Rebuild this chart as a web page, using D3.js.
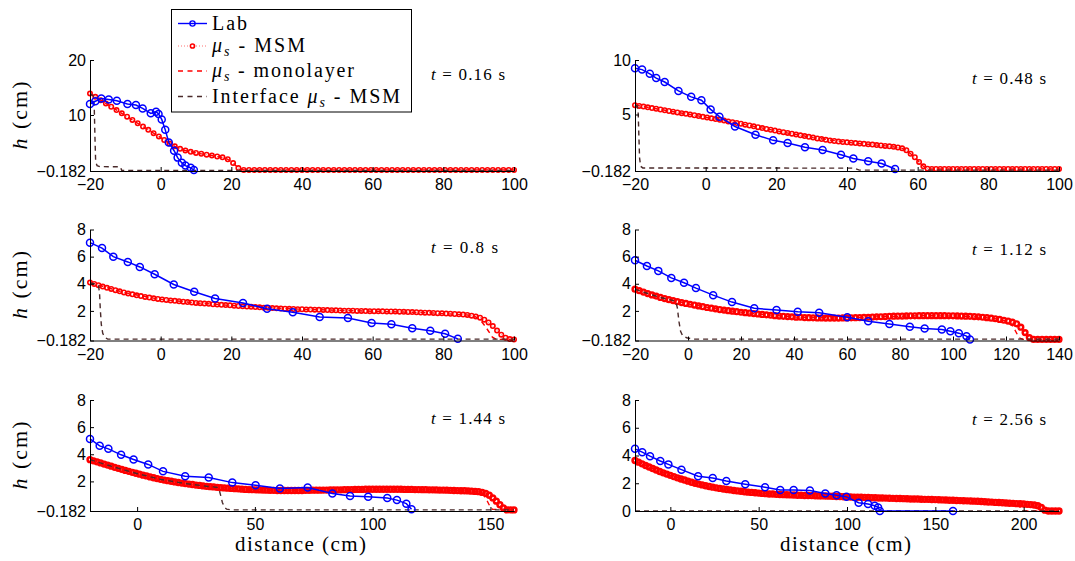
<!DOCTYPE html>
<html>
<head>
<meta charset="utf-8">
<script src="https://cdn.jsdelivr.net/npm/d3@7"></script>
<style>
  body { margin: 0; background: #fff; }
  svg { display: block; }
  .axis text { font-family: "Liberation Sans", Arial, sans-serif; font-size: 16px; fill: #000; }
  .axis path, .axis line { stroke: #000; stroke-width: 1; }
  .serif { font-family: "Liberation Serif", "Times New Roman", serif; fill: #000; }
</style>
</head>
<body>
<svg id="chart" width="1075" height="561"></svg>
<script>
// ---------------- data: snapshot times and axis settings ----------------
const snapTimes = ["0.16", "0.48", "0.8", "1.12", "1.44", "2.56"];
const xDomains = [[-20, 100], [-20, 100], [-20, 100], [-20, 140], [-20, 160], [-20, 220]];
const yDomains = [[-0.182, 20], [-0.182, 10], [-0.182, 8], [-0.182, 8], [-0.182, 8], [0, 8]];
const xTickSets = [
  [-20, 0, 20, 40, 60, 80, 100],
  [-20, 0, 20, 40, 60, 80, 100],
  [-20, 0, 20, 40, 60, 80, 100],
  [-20, 0, 20, 40, 60, 80, 100, 120, 140],
  [0, 50, 100, 150],
  [0, 50, 100, 150, 200]
];
const yTickSets = [
  [-0.182, 10, 20],
  [-0.182, 5, 10],
  [-0.182, 2, 4, 6, 8],
  [-0.182, 2, 4, 6, 8],
  [-0.182, 2, 4, 6, 8],
  [0, 2, 4, 6, 8]
];

// ---------------- data: laboratory profiles ----------------
const lab016X = [-20, -18.5, -16.8, -14.7, -12.4, -9.4, -7, -5.1, -2.8, -1.3, -0.6, 0.3, 1.3, 2.3, 3.8, 4.8, 6.0, 7.0, 8.5, 9.4];
const lab016H = [12, 12.5, 13.0, 12.8, 12.6, 12.0, 11.8, 11.2, 10.3, 10.6, 10.2, 9.2, 7.3, 5.0, 3.5, 2.25, 1.3, 0.8, 0.4, 0.0];
const lab048X = [-20, -18, -15.8, -14, -11.6, -7.7, -4.1, -1.2, 1.4, 3.9, 8.3, 14.1, 19.1, 23.2, 28.1, 33.1, 38.3, 41.8, 46, 49.8, 53.6];
const lab048H = [9.25, 9.12, 8.73, 8.34, 7.98, 7.16, 6.62, 6.31, 5.47, 4.8, 3.9, 3.14, 2.63, 2.39, 1.99, 1.75, 1.3, 0.97, 0.72, 0.51, 0.0];
const lab080X = [-20, -16.6, -13.4, -9.3, -5.9, -1.7, 3.7, 9.5, 15.4, 23.3, 30.1, 37.4, 45, 53, 59.7, 65.3, 71.2, 76.3, 80.5, 84.1];
const lab080H = [7.03, 6.63, 6.0, 5.61, 5.24, 4.7, 3.95, 3.41, 2.92, 2.58, 2.16, 1.9, 1.55, 1.48, 1.11, 1.02, 0.72, 0.53, 0.31, -0.06];
const lab112X = [-20, -15.5, -11.2, -6.3, -1.5, 3, 9.5, 16.6, 25, 33.4, 41.4, 49.5, 60.1, 68, 76, 83.7, 89.3, 95.8, 99, 102.2, 105.1, 106.4];
const lab112H = [5.73, 5.31, 4.95, 4.43, 4.07, 3.68, 3.16, 2.65, 2.19, 2.07, 1.94, 1.87, 1.53, 1.24, 1.04, 0.84, 0.7, 0.63, 0.5, 0.36, 0.14, -0.1];
const lab144X = [-20, -15.9, -12.2, -6.8, -1.5, 4.7, 11, 20.4, 30.4, 40.4, 50.3, 60.6, 72.4, 82.9, 90.4, 98.1, 106.2, 110.3, 114.3, 116.5];
const lab144H = [5.13, 4.62, 4.4, 3.96, 3.62, 3.25, 2.74, 2.38, 2.28, 1.91, 1.72, 1.48, 1.55, 1.11, 0.92, 0.87, 0.77, 0.62, 0.36, -0.05];
const lab256X = [-20, -15.9, -11.5, -5.7, -1.1, 6.3, 15.7, 24, 31.7, 42.4, 53.6, 62.2, 69.8, 79, 87.7, 94.1, 99.7, 106.6, 111.9, 115.7, 117.6, 118.6, 160];
const lab256H = [4.48, 4.24, 3.95, 3.6, 3.36, 2.98, 2.5, 2.38, 2.17, 1.93, 1.71, 1.52, 1.52, 1.48, 1.26, 1.14, 1.02, 0.6, 0.5, 0.38, 0.26, 0, 0];

// ---------------- data: multilayer (MSM) surface, one value per node ----------------
const msm016X = [-20, -18.5, -17, -15.5, -14, -12.5, -11, -9.5, -8, -6.5,
  -5, -3.5, -2, -0.5, 1, 2.5, 4, 5.5, 7, 8.5,
  10, 11.5, 13, 14.5, 16, 17.5, 19, 20.5, 22, 23.5,
  25, 26.5, 28, 29.5, 31, 32.5, 34, 35.5, 37, 38.5,
  40, 41.5, 43, 44.5, 46, 47.5, 49, 50.5, 52, 53.5,
  55, 56.5, 58, 59.5, 61, 62.5, 64, 65.5, 67, 68.5,
  70, 71.5, 73, 74.5, 76, 77.5, 79, 80.5, 82, 83.5,
  85, 86.5, 88, 89.5, 91, 92.5, 94, 95.5, 97, 98.5,
  100];
const msm016H = [13.9, 13.3, 12.7, 12.1, 11.5, 10.9, 10.3, 9.7, 9.1, 8.5,
  7.9, 7.3, 6.7, 6.1, 5.45, 4.8, 4.3, 3.85, 3.55, 3.3,
  3.1, 2.95, 2.78, 2.62, 2.45, 2.3, 1.95, 1.25, 0.35, 0,
  0, 0, 0, 0, 0, 0, 0, 0, 0, 0,
  0, 0, 0, 0, 0, 0, 0, 0, 0, 0,
  0, 0, 0, 0, 0, 0, 0, 0, 0, 0,
  0, 0, 0, 0, 0, 0, 0, 0, 0, 0,
  0, 0, 0, 0, 0, 0, 0, 0, 0, 0,
  0];
const msm048X = [-20, -18.8, -17.6, -16.4, -15.2, -14, -12.8, -11.6, -10.4, -9.2,
  -8, -6.8, -5.6, -4.4, -3.2, -2, -0.8, 0.4, 1.6, 2.8,
  4, 5.2, 6.4, 7.6, 8.8, 10, 11.2, 12.4, 13.6, 14.8,
  16, 17.2, 18.4, 19.6, 20.8, 22, 23.2, 24.4, 25.6, 26.8,
  28, 29.2, 30.4, 31.6, 32.8, 34, 35.2, 36.4, 37.6, 38.8,
  40, 41.2, 42.4, 43.6, 44.8, 46, 47.2, 48.4, 49.6, 50.8,
  52, 53.2, 54.4, 55.6, 56.8, 58, 59.2, 60.4, 61.6, 62.8,
  64, 65.2, 66.4, 67.6, 68.8, 70, 71.2, 72.4, 73.6, 74.8,
  76, 77.2, 78.4, 79.6, 80.8, 82, 83.2, 84.4, 85.6, 86.8,
  88, 89.2, 90.4, 91.6, 92.8, 94, 95.2, 96.4, 97.6, 98.8,
  100];
const msm048H = [5.86, 5.79, 5.73, 5.66, 5.59, 5.53, 5.46, 5.39, 5.32, 5.26,
  5.19, 5.12, 5.06, 4.99, 4.93, 4.86, 4.79, 4.73, 4.65, 4.58,
  4.51, 4.44, 4.37, 4.29, 4.22, 4.15, 4.07, 3.99, 3.92, 3.84,
  3.76, 3.68, 3.6, 3.53, 3.45, 3.38, 3.31, 3.24, 3.16, 3.09,
  3.02, 2.95, 2.88, 2.81, 2.75, 2.68, 2.62, 2.57, 2.52, 2.48,
  2.45, 2.41, 2.38, 2.34, 2.31, 2.27, 2.24, 2.2, 2.16, 2.12,
  2.08, 2.04, 1.98, 1.9, 1.72, 1.4, 1.08, 0.65, 0.25, 0.03,
  0, 0, 0, 0, 0, 0, 0, 0, 0, 0,
  0, 0, 0, 0, 0, 0, 0, 0, 0, 0,
  0, 0, 0, 0, 0, 0, 0, 0, 0, 0,
  0];
const msm080X = msm048X;
const msm080H = [4.09, 3.99, 3.89, 3.79, 3.7, 3.62, 3.53, 3.44, 3.36, 3.29,
  3.22, 3.15, 3.09, 3.03, 2.98, 2.93, 2.88, 2.84, 2.81, 2.77,
  2.74, 2.71, 2.68, 2.65, 2.62, 2.59, 2.57, 2.54, 2.52, 2.49,
  2.47, 2.45, 2.43, 2.41, 2.38, 2.36, 2.34, 2.32, 2.3, 2.28,
  2.26, 2.24, 2.23, 2.21, 2.19, 2.18, 2.16, 2.15, 2.14, 2.13,
  2.12, 2.11, 2.1, 2.09, 2.08, 2.07, 2.06, 2.05, 2.04, 2.03,
  2.02, 2.02, 2.01, 2.0, 2.0, 1.99, 1.98, 1.98, 1.97, 1.97,
  1.96, 1.96, 1.95, 1.94, 1.93, 1.92, 1.91, 1.9, 1.88, 1.87,
  1.86, 1.85, 1.83, 1.82, 1.8, 1.79, 1.77, 1.75, 1.73, 1.7,
  1.65, 1.58, 1.5, 1.35, 1.15, 0.88, 0.55, 0.25, 0.02, -0.08,
  -0.1];
const msm112X = [-20, -18.4, -16.8, -15.2, -13.6, -12, -10.4, -8.8, -7.2, -5.6,
  -4, -2.4, -0.8, 0.8, 2.4, 4, 5.6, 7.2, 8.8, 10.4,
  12, 13.6, 15.2, 16.8, 18.4, 20, 21.6, 23.2, 24.8, 26.4,
  28, 29.6, 31.2, 32.8, 34.4, 36, 37.6, 39.2, 40.8, 42.4,
  44, 45.6, 47.2, 48.8, 50.4, 52, 53.6, 55.2, 56.8, 58.4,
  60, 61.6, 63.2, 64.8, 66.4, 68, 69.6, 71.2, 72.8, 74.4,
  76, 77.6, 79.2, 80.8, 82.4, 84, 85.6, 87.2, 88.8, 90.4,
  92, 93.6, 95.2, 96.8, 98.4, 100, 101.6, 103.2, 104.8, 106.4,
  108, 109.6, 111.2, 112.8, 114.4, 116, 117.6, 119.2, 120.8, 122.4,
  124, 125.6, 127.2, 128.8, 130.4, 132, 133.6, 135.2, 136.8, 138.4,
  140];
const msm112H = [3.6, 3.49, 3.39, 3.28, 3.18, 3.09, 2.99, 2.91, 2.83, 2.76,
  2.68, 2.61, 2.55, 2.49, 2.43, 2.37, 2.31, 2.25, 2.2, 2.15,
  2.1, 2.06, 2.02, 1.98, 1.94, 1.9, 1.87, 1.84, 1.8, 1.77,
  1.74, 1.71, 1.68, 1.65, 1.62, 1.6, 1.58, 1.56, 1.54, 1.53,
  1.51, 1.5, 1.49, 1.48, 1.48, 1.47, 1.47, 1.47, 1.47, 1.48,
  1.48, 1.49, 1.5, 1.51, 1.52, 1.53, 1.55, 1.56, 1.57, 1.58,
  1.6, 1.61, 1.62, 1.62, 1.63, 1.64, 1.64, 1.65, 1.65, 1.65,
  1.65, 1.65, 1.65, 1.65, 1.64, 1.64, 1.63, 1.62, 1.61, 1.6,
  1.58, 1.56, 1.53, 1.5, 1.46, 1.42, 1.37, 1.31, 1.25, 1.17,
  1.05, 0.8, 0.4, 0.03, -0.1, -0.1, -0.1, -0.1, -0.1, -0.1,
  -0.1];
const msm144X = [-20, -18.5, -17, -15.5, -14, -12.5, -11, -9.5, -8, -6.5,
  -5, -3.5, -2, -0.5, 1, 2.5, 4, 5.5, 7, 8.5,
  10, 11.5, 13, 14.5, 16, 17.5, 19, 20.5, 22, 23.5,
  25, 26.5, 28, 29.5, 31, 32.5, 34, 35.5, 37, 38.5,
  40, 41.5, 43, 44.5, 46, 47.5, 49, 50.5, 52, 53.5,
  55, 56.5, 58, 59.5, 61, 62.5, 64, 65.5, 67, 68.5,
  70, 71.5, 73, 74.5, 76, 77.5, 79, 80.5, 82, 83.5,
  85, 86.5, 88, 89.5, 91, 92.5, 94, 95.5, 97, 98.5,
  100, 101.5, 103, 104.5, 106, 107.5, 109, 110.5, 112, 113.5,
  115, 116.5, 118, 119.5, 121, 122.5, 124, 125.5, 127, 128.5,
  130, 131.5, 133, 134.5, 136, 137.5, 139, 140.5, 142, 143.5,
  145, 146.5, 148, 149.5, 151, 152.5, 154, 155.5, 157, 158.5,
  160];
const msm144H = [3.6, 3.52, 3.44, 3.36, 3.28, 3.2, 3.12, 3.04, 2.96, 2.89,
  2.81, 2.74, 2.67, 2.6, 2.53, 2.46, 2.4, 2.33, 2.27, 2.21,
  2.15, 2.1, 2.05, 2.01, 1.96, 1.92, 1.88, 1.84, 1.8, 1.77,
  1.73, 1.7, 1.67, 1.64, 1.61, 1.59, 1.56, 1.54, 1.52, 1.5,
  1.48, 1.46, 1.45, 1.43, 1.41, 1.4, 1.39, 1.38, 1.37, 1.36,
  1.35, 1.34, 1.34, 1.33, 1.33, 1.33, 1.33, 1.33, 1.33, 1.33,
  1.33, 1.34, 1.34, 1.35, 1.35, 1.35, 1.36, 1.36, 1.37, 1.37,
  1.38, 1.38, 1.39, 1.4, 1.4, 1.41, 1.41, 1.41, 1.42, 1.42,
  1.42, 1.42, 1.42, 1.42, 1.42, 1.42, 1.42, 1.42, 1.42, 1.41,
  1.41, 1.41, 1.4, 1.4, 1.39, 1.39, 1.38, 1.38, 1.37, 1.36,
  1.36, 1.35, 1.34, 1.33, 1.32, 1.31, 1.31, 1.3, 1.28, 1.26,
  1.24, 1.19, 1.12, 0.98, 0.78, 0.54, 0.28, 0.05, -0.1, -0.1,
  -0.1];
const msm256X = [-20, -18, -16, -14, -12, -10, -8, -6, -4, -2,
  0, 2, 4, 6, 8, 10, 12, 14, 16, 18,
  20, 22, 24, 26, 28, 30, 32, 34, 36, 38,
  40, 42, 44, 46, 48, 50, 52, 54, 56, 58,
  60, 62, 64, 66, 68, 70, 72, 74, 76, 78,
  80, 82, 84, 86, 88, 90, 92, 94, 96, 98,
  100, 102, 104, 106, 108, 110, 112, 114, 116, 118,
  120, 122, 124, 126, 128, 130, 132, 134, 136, 138,
  140, 142, 144, 146, 148, 150, 152, 154, 156, 158,
  160, 162, 164, 166, 168, 170, 172, 174, 176, 178,
  180, 182, 184, 186, 188, 190, 192, 194, 196, 198,
  200, 202, 204, 206, 208, 210, 212, 214, 216, 218,
  220];
const msm256H = [3.64, 3.52, 3.4, 3.28, 3.17, 3.06, 2.95, 2.85, 2.75, 2.66,
  2.57, 2.48, 2.39, 2.31, 2.23, 2.15, 2.07, 2.0, 1.94, 1.88,
  1.82, 1.77, 1.72, 1.67, 1.63, 1.59, 1.55, 1.52, 1.48, 1.45,
  1.42, 1.39, 1.36, 1.34, 1.31, 1.29, 1.27, 1.25, 1.23, 1.22,
  1.2, 1.19, 1.18, 1.17, 1.16, 1.15, 1.14, 1.13, 1.12, 1.12,
  1.11, 1.1, 1.09, 1.09, 1.08, 1.07, 1.06, 1.05, 1.04, 1.03,
  1.02, 1.01, 1.0, 0.99, 0.99, 0.98, 0.97, 0.96, 0.95, 0.94,
  0.94, 0.93, 0.92, 0.91, 0.9, 0.9, 0.89, 0.88, 0.87, 0.87,
  0.86, 0.85, 0.84, 0.84, 0.83, 0.82, 0.81, 0.8, 0.79, 0.78,
  0.77, 0.76, 0.75, 0.74, 0.73, 0.72, 0.71, 0.7, 0.68, 0.67,
  0.65, 0.64, 0.62, 0.61, 0.59, 0.58, 0.56, 0.55, 0.53, 0.52,
  0.5, 0.48, 0.46, 0.43, 0.38, 0.25, 0.06, 0, 0, 0,
  0];

// ---------------- data: monolayer surface ----------------
const mono016X = [-20, -0.5, 2.5, 4, 5.5, 7, 10, 13, 16, 17.5, 19, 20.5, 22, 23.5, 100];
const mono016H = [13.9, 6.1, 4.8, 4.3, 3.85, 3.55, 3.1, 2.78, 2.45, 2.3, 1.95, 1.25, 0.35, 0, 0];
const mono048X = [-20, 0.4, 10, 20.8, 30.4, 40, 50.8, 54.4, 55.6, 56.8, 58, 59.2, 60.4, 61.6, 62.8, 64, 100];
const mono048H = [5.86, 4.73, 4.15, 3.45, 2.88, 2.45, 2.12, 1.98, 1.9, 1.72, 1.4, 1.08, 0.65, 0.25, 0.03, 0, 0];
const mono080X = [-20, -10.4, -0.8, 10, 22, 40, 58, 76, 86.8, 88, 89.2, 90.4, 91.7, 92.8, 93.9, 95, 100];
const mono080H = [4.09, 3.36, 2.88, 2.59, 2.36, 2.12, 1.99, 1.86, 1.7, 1.65, 1.55, 1.35, 0.92, 0.5, 0.06, -0.1, -0.1];
const mono112X = [-20, -10.4, 0.8, 12, 24.8, 40.8, 56.8, 72.8, 88.8, 104.8, 114.4, 117.6, 119.5, 121, 122.4, 123.3, 124.3, 125.2, 126.5, 140];
const mono112H = [3.6, 2.99, 2.49, 2.1, 1.8, 1.54, 1.47, 1.57, 1.65, 1.61, 1.46, 1.37, 1.28, 1.12, 0.9, 0.62, 0.25, 0.0, -0.1, -0.1];
const mono144X = [-20, -11, 1, 13, 25, 40, 55, 70, 85, 100, 115, 130, 140.5, 145, 146.5, 147.7, 148.8, 149.8, 150.8, 160];
const mono144H = [3.6, 3.12, 2.53, 2.05, 1.73, 1.48, 1.35, 1.33, 1.38, 1.42, 1.41, 1.36, 1.3, 1.24, 1.12, 0.85, 0.5, 0.15, -0.05, -0.1];
const mono256X = [-20, -10, 0, 10, 20, 30, 40, 60, 80, 100, 120, 140, 160, 180, 190, 194, 196, 198, 199.5, 201, 220];
const mono256H = [3.64, 3.06, 2.57, 2.15, 1.82, 1.59, 1.42, 1.2, 1.11, 1.02, 0.94, 0.86, 0.77, 0.65, 0.58, 0.55, 0.45, 0.28, 0.1, 0, 0];

// ---------------- data: interface between layers (MSM) ----------------
const iface016X = [-20, -19.4, -19.0, -18.8, -18.6, -18.4, -18.0, -17.2, -11.4, -11.0, 100];
const iface016H = [13.9, 13.65, 13.4, 11.5, 6, 1.5, 0.8, 0.62, 0.58, -0.1, -0.1];
const iface048X = [-20, -19.4, -19.1, -18.9, -18.7, -18.4, -17.8, 42, 43.5, 100];
const iface048H = [5.86, 5.8, 5.2, 3, 1, 0.25, 0.1, 0.08, -0.1, -0.1];
const iface080X = [-20, -18.8, -17.6, -17.3, -17.1, -16.8, -16.4, -15.8, -15, 100];
const iface080H = [4.09, 3.99, 3.89, 3.3, 2.2, 1.0, 0.35, 0.05, -0.08, -0.08];
const iface112X = [-20, -15.2, -10.4, -5.6, -4.6, -4.0, -3.4, -2.8, -2.0, -0.5, 2, 140];
const iface112H = [3.6, 3.28, 2.99, 2.76, 2.7, 2.2, 1.2, 0.5, 0.15, 0.02, -0.08, -0.08];
const iface144X = [-20, -11, -0.5, 10, 20.5, 29.5, 34, 34.8, 35.5, 36.2, 37, 38, 40, 160];
const iface144H = [3.6, 3.12, 2.6, 2.15, 1.84, 1.64, 1.56, 1.4, 0.95, 0.45, 0.12, -0.05, -0.1, -0.1];
const iface256X = [-20, 220];
const iface256H = [0, 0];

// ---------------- assemble series per panel ----------------
const zip = (xs, hs) => xs.slice(0, Math.min(xs.length, hs.length)).map((v, i) => [v, hs[i]]);
const labSeries   = [zip(lab016X, lab016H), zip(lab048X, lab048H), zip(lab080X, lab080H), zip(lab112X, lab112H), zip(lab144X, lab144H), zip(lab256X, lab256H)];
const msmSeries   = [zip(msm016X, msm016H), zip(msm048X, msm048H), zip(msm080X, msm080H), zip(msm112X, msm112H), zip(msm144X, msm144H), zip(msm256X, msm256H)];
const monoSeries  = [zip(mono016X, mono016H), zip(mono048X, mono048H), zip(mono080X, mono080H), zip(mono112X, mono112H), zip(mono144X, mono144H), zip(mono256X, mono256H)];
const ifaceSeries = [zip(iface016X, iface016H), zip(iface048X, iface048H), zip(iface080X, iface080H), zip(iface112X, iface112H), zip(iface144X, iface144H), zip(iface256X, iface256H)];

// ---------------- layout & style ----------------
const colLeft = [90, 635];
const plotW = 424;
const rowTop = [60, 229.5, 400];
const plotH = 111;
const timeLabelX = [431, 972];
const timeLabelBaseline = [80, 84, 253, 255, 424, 425];
// node markers merge into a band where the nodes are packed tightly
const msmMarkerR = [2.2, 2.2, 2.2, 2.4, 2.4, 2.4];
const msmMarkerW = [1.6, 1.6, 1.6, 2.4, 2.5, 2.6];

const BLUE = "#0000ff";
const RED = "#ff0000";
const BROWN = "#4a2a2a";

const svg = d3.select("#chart");
svg.append("rect").attr("width", 1075).attr("height", 561).attr("fill", "#fff");

const tickFmt = v => (v < 0 ? "\u2212" + String(-v) : String(v));

snapTimes.forEach((t, i) => {
  const col = i % 2, row = Math.floor(i / 2);
  const x0 = colLeft[col], y0 = rowTop[row];
  const x = d3.scaleLinear().domain(xDomains[i]).range([x0, x0 + plotW]);
  const y = d3.scaleLinear().domain(yDomains[i]).range([y0 + plotH, y0]);
  const line = d3.line().x(d => x(d[0])).y(d => y(d[1]));
  const g = svg.append("g");

  // multilayer surface: dotted line with open circle markers
  g.append("path").datum(msmSeries[i]).attr("d", line)
    .attr("fill", "none").attr("stroke", "#ff5a5a").attr("stroke-width", 1)
    .attr("stroke-dasharray", "1,2");
  g.append("g").selectAll("circle").data(msmSeries[i]).join("circle")
    .attr("cx", d => x(d[0])).attr("cy", d => y(d[1])).attr("r", msmMarkerR[i])
    .attr("fill", "none").attr("stroke", RED).attr("stroke-width", msmMarkerW[i]);

  // monolayer surface
  g.append("path").datum(monoSeries[i]).attr("d", line)
    .attr("fill", "none").attr("stroke", RED).attr("stroke-width", 1.4)
    .attr("stroke-dasharray", "5,4");

  // interface between the layers
  g.append("path").datum(ifaceSeries[i]).attr("d", line)
    .attr("fill", "none").attr("stroke", BROWN).attr("stroke-width", 1.4)
    .attr("stroke-dasharray", "5,4");

  // laboratory measurements
  g.append("path").datum(labSeries[i]).attr("d", line)
    .attr("fill", "none").attr("stroke", BLUE).attr("stroke-width", 1.5);
  g.append("g").selectAll("circle").data(labSeries[i]).join("circle")
    .attr("cx", d => x(d[0])).attr("cy", d => y(d[1])).attr("r", 3.5)
    .attr("fill", "none").attr("stroke", BLUE).attr("stroke-width", 1.5);

  // axes (left and bottom only, ticks pointing inward)
  g.append("g").attr("class", "axis").attr("transform", `translate(0,${y0 + plotH})`)
    .call(d3.axisBottom(x).tickValues(xTickSets[i]).tickFormat(tickFmt)
      .tickSizeInner(-4).tickSizeOuter(0).tickPadding(8));
  g.append("g").attr("class", "axis").attr("transform", `translate(${x0},0)`)
    .call(d3.axisLeft(y).tickValues(yTickSets[i]).tickFormat(tickFmt)
      .tickSizeInner(-4).tickSizeOuter(0).tickPadding(4));

  // time stamp
  const tl = g.append("text").attr("class", "serif")
    .attr("x", timeLabelX[col]).attr("y", timeLabelBaseline[i])
    .attr("font-size", 17)
    .attr("textLength", t.length === 3 ? 67 : 74).attr("lengthAdjust", "spacing");
  tl.append("tspan").attr("font-style", "italic").text("t");
  tl.append("tspan").text(" = " + t + " s");

  // y label on the left column
  if (col === 0) {
    const yl = g.append("text").attr("class", "serif")
      .attr("transform", `translate(27,${y0 + plotH / 2}) rotate(-90)`)
      .attr("text-anchor", "middle").attr("font-size", 22)
      .attr("textLength", 68).attr("lengthAdjust", "spacing");
    yl.append("tspan").attr("font-style", "italic").text("h");
    yl.append("tspan").text(" (cm)");
  }
  // x label on the bottom row
  if (row === 2) {
    g.append("text").attr("class", "serif")
      .attr("x", x0 + plotW / 2 - 1.5).attr("y", 551)
      .attr("text-anchor", "middle").attr("font-size", 21)
      .attr("textLength", 131).attr("lengthAdjust", "spacing")
      .text("distance (cm)");
  }
});

// ---------------- legend ----------------
const legend = svg.append("g");
legend.append("rect").attr("x", 171.5).attr("y", 9.5).attr("width", 240).attr("height", 102.5)
  .attr("fill", "#fff").attr("stroke", "#000").attr("stroke-width", 1);

const legendRows = [
  { key: "lab",   pre: "",           post: "Lab",   width: 35 },
  { key: "msm",   pre: "",           post: " - MSM", mu: true, width: 93 },
  { key: "mono",  pre: "",           post: " - monolayer", mu: true, width: 142 },
  { key: "iface", pre: "Interface ", post: " - MSM", mu: true, width: 188 }
];
const rowCenters = [23.5, 46, 71, 96.5];
legendRows.forEach((r, k) => {
  const cy = rowCenters[k];
  if (r.key === "lab") {
    legend.append("line").attr("x1", 178).attr("x2", 207).attr("y1", cy).attr("y2", cy)
      .attr("stroke", BLUE).attr("stroke-width", 1.4);
    legend.append("circle").attr("cx", 192.5).attr("cy", cy).attr("r", 2.6)
      .attr("fill", "none").attr("stroke", BLUE).attr("stroke-width", 1.4);
  } else if (r.key === "msm") {
    legend.append("line").attr("x1", 178).attr("x2", 207).attr("y1", cy).attr("y2", cy)
      .attr("stroke", "#ff7070").attr("stroke-width", 1).attr("stroke-dasharray", "1,2");
    legend.append("circle").attr("cx", 192.5).attr("cy", cy).attr("r", 2.1)
      .attr("fill", "none").attr("stroke", RED).attr("stroke-width", 1.5);
  } else {
    legend.append("line").attr("x1", 178).attr("x2", 207).attr("y1", cy).attr("y2", cy)
      .attr("stroke", r.key === "mono" ? RED : BROWN).attr("stroke-width", 1.4)
      .attr("stroke-dasharray", "5,4.5");
  }
  const txt = legend.append("text").attr("class", "serif")
    .attr("x", 212).attr("y", cy + 6).attr("font-size", 20)
    .attr("textLength", r.width).attr("lengthAdjust", "spacing");
  if (r.pre) txt.append("tspan").text(r.pre);
  if (r.mu) {
    txt.append("tspan").attr("font-style", "italic").text("\u03bc");
    txt.append("tspan").attr("font-style", "italic").attr("font-size", 14).attr("dy", 4).text("s");
    txt.append("tspan").attr("dy", -4).text(r.post);
  } else {
    txt.append("tspan").text(r.post);
  }
});
</script>
</body>
</html>
